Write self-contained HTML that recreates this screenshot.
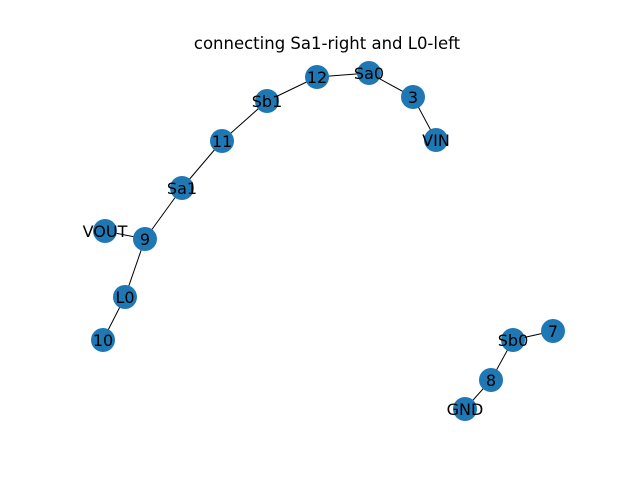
<!DOCTYPE html>
<html>
<head>
<meta charset="utf-8">
<style>
html,body{margin:0;padding:0;background:#fff;}
svg text{font-family:"DejaVu Sans","Liberation Sans",sans-serif;}
</style>
</head>
<body>
<svg id="chart" width="640" height="480" viewBox="0 0 640 480" xmlns="http://www.w3.org/2000/svg">
<rect width="640" height="480" fill="#fff"/>
<text x="327" y="49" text-anchor="middle" font-size="16.5">connecting Sa1-right and L0-left</text>
<g id="edges"></g>
<g id="nodes"></g>
</svg>
<script>
const nodeNames = ["12","Sa0","3","VIN","Sb1","11","Sa1","9","VOUT","L0","10","Sb0","7","8","GND"];
const nodeX = [317,369,413,436,267,222,182,145,105,125,103,513,553,491,465];
const nodeY = [77,73,97,140,101,141,188,239,231,297,340,340,331,380,409];
const edgeFrom = ["12","Sa0","3","12","Sb1","11","Sa1","9","9","L0","Sb0","Sb0","8"];
const edgeTo = ["Sa0","3","VIN","Sb1","11","Sa1","9","VOUT","L0","10","7","8","GND"];
const NS="http://www.w3.org/2000/svg";
function px(i){return nodeX[i];}
function py(i){return nodeY[i];}
const eg=document.getElementById('edges'), ng=document.getElementById('nodes');
for(let k=0;k<edgeFrom.length;k++){
  const a=nodeNames.indexOf(edgeFrom[k]), b=nodeNames.indexOf(edgeTo[k]);
  const l=document.createElementNS(NS,'line');
  l.setAttribute('x1',px(a));l.setAttribute('y1',py(a));
  l.setAttribute('x2',px(b));l.setAttribute('y2',py(b));
  l.setAttribute('stroke','#000');l.setAttribute('stroke-width','1');
  
  
  eg.appendChild(l);
}
for(let i=0;i<nodeNames.length;i++){
  const c=document.createElementNS(NS,'circle');
  c.setAttribute('cx',px(i));c.setAttribute('cy',py(i));c.setAttribute('r','12');
  c.setAttribute('fill','#1f77b4');
  
  
  ng.appendChild(c);
  const t=document.createElementNS(NS,'text');
  t.setAttribute('x',px(i));t.setAttribute('y',py(i)+6);
  t.setAttribute('text-anchor','middle');t.setAttribute('font-size','16');
  t.textContent=nodeNames[i];
  
  
  ng.appendChild(t);
}
</script>
</body>
</html>
